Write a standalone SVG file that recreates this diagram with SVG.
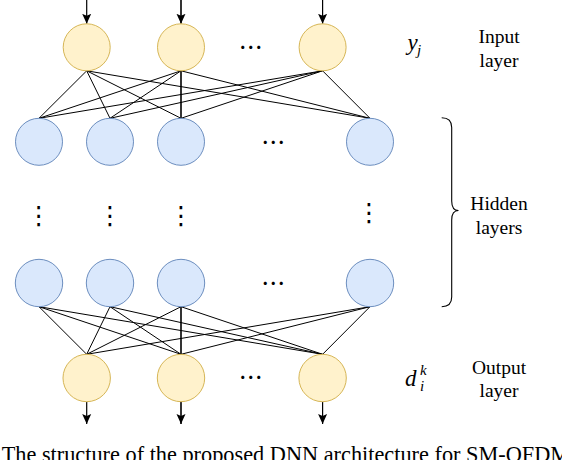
<svg xmlns="http://www.w3.org/2000/svg" width="562" height="460" viewBox="0 0 562 460">
  <style>
    .in{fill:#FFF2CC;stroke:#D6B656;stroke-width:1}
    .hid{fill:#DAE8FC;stroke:#6C8EBF;stroke-width:1}
    .edge{stroke:#000;stroke-width:1;fill:none}
    .arr{stroke:#000;stroke-width:1.2;fill:none;marker-end:url(#ah)}
    .lbl{font-family:"Liberation Serif","Times New Roman",serif;font-size:19.5px;fill:#000;text-anchor:middle}
    .math{font-family:"Liberation Serif","Times New Roman",serif;font-style:italic;fill:#000}
    .dots{font-family:"Noto Sans CJK SC","DejaVu Sans",sans-serif;font-size:24px;fill:#000;text-anchor:middle}
    .vdots{font-family:"Noto Sans CJK SC","DejaVu Sans",sans-serif;font-size:25px;fill:#000;text-anchor:middle}
    .cap{font-family:"Liberation Serif","Times New Roman",serif;font-size:22.3px;fill:#000}
  </style>
  <defs>
    <marker id="ah" markerUnits="userSpaceOnUse" markerWidth="10" markerHeight="10" viewBox="0 0 10 9" refX="10" refY="4.5" orient="auto">
      <path d="M0,0 L10,4.5 L0,9 L2,4.5 z" fill="#000"/>
    </marker>
  </defs>

  <g id="connectors">
    <!-- input arrows -->
    <line class="arr" x1="86.7" y1="0" x2="86.7" y2="23.8"/>
    <line class="arr" x1="181" y1="0" x2="181" y2="23.8" style="stroke-width:1.6"/>
    <line class="arr" x1="322.6" y1="0" x2="322.6" y2="23.8"/>
    <!-- input -> hidden 1 -->
    <line class="edge" x1="86.7" y1="70.8" x2="39" y2="118.3"/>
    <line class="edge" x1="86.7" y1="70.8" x2="110" y2="118.3"/>
    <line class="edge" x1="86.7" y1="70.8" x2="181" y2="118.3"/>
    <line class="edge" x1="86.7" y1="70.8" x2="370" y2="118.3"/>
    <line class="edge" x1="181" y1="70.8" x2="39" y2="118.3"/>
    <line class="edge" x1="181" y1="70.8" x2="110" y2="118.3"/>
    <line class="edge" x1="181" y1="70.8" x2="181" y2="118.3" style="stroke-width:1.6"/>
    <line class="edge" x1="181" y1="70.8" x2="370" y2="118.3"/>
    <line class="edge" x1="322.6" y1="70.8" x2="39" y2="118.3"/>
    <line class="edge" x1="322.6" y1="70.8" x2="110" y2="118.3"/>
    <line class="edge" x1="322.6" y1="70.8" x2="181" y2="118.3"/>
    <line class="edge" x1="322.6" y1="70.8" x2="370" y2="118.3"/>
    <!-- hidden 2 -> output -->
    <line class="edge" x1="39" y1="306.7" x2="86.7" y2="354.3"/>
    <line class="edge" x1="39" y1="306.7" x2="181" y2="354.3"/>
    <line class="edge" x1="39" y1="306.7" x2="322.6" y2="354.3"/>
    <line class="edge" x1="110" y1="306.7" x2="86.7" y2="354.3"/>
    <line class="edge" x1="110" y1="306.7" x2="181" y2="354.3"/>
    <line class="edge" x1="110" y1="306.7" x2="322.6" y2="354.3"/>
    <line class="edge" x1="181" y1="306.7" x2="86.7" y2="354.3"/>
    <line class="edge" x1="181" y1="306.7" x2="181" y2="354.3" style="stroke-width:1.6"/>
    <line class="edge" x1="181" y1="306.7" x2="322.6" y2="354.3"/>
    <line class="edge" x1="370" y1="306.7" x2="86.7" y2="354.3"/>
    <line class="edge" x1="370" y1="306.7" x2="181" y2="354.3"/>
    <line class="edge" x1="370" y1="306.7" x2="322.6" y2="354.3"/>
    <!-- output arrows -->
    <line class="arr" x1="86.7" y1="401.7" x2="86.7" y2="424"/>
    <line class="arr" x1="181" y1="401.7" x2="181" y2="424" style="stroke-width:1.6"/>
    <line class="arr" x1="322.6" y1="401.7" x2="322.6" y2="424"/>
  </g>

  <g id="input-1"><circle class="in" cx="86.7" cy="47.3" r="23.5"/></g>
  <g id="input-2"><circle class="in" cx="181" cy="47.3" r="23.5"/></g>
  <g id="input-3"><circle class="in" cx="322.6" cy="47.3" r="23.5"/></g>
  <g id="input-dots"><text class="dots" x="250.7" y="55.5">⋯</text></g>

  <g id="hidden1-1"><circle class="hid" cx="39" cy="141.8" r="23.5"/></g>
  <g id="hidden1-2"><circle class="hid" cx="110" cy="141.8" r="23.5"/></g>
  <g id="hidden1-3"><circle class="hid" cx="181" cy="141.8" r="23.5"/></g>
  <g id="hidden1-4"><circle class="hid" cx="370" cy="141.8" r="23.5"/></g>
  <g id="hidden1-dots"><text class="dots" x="273.3" y="150.5">⋯</text></g>

  <g id="vdots">
    <text class="vdots" x="38.7" y="223.5">⋮</text>
    <text class="vdots" x="110" y="223.5">⋮</text>
    <text class="vdots" x="181" y="223.5">⋮</text>
    <text class="vdots" x="369" y="221">⋮</text>
  </g>

  <g id="hidden2-1"><circle class="hid" cx="39" cy="283" r="23.7"/></g>
  <g id="hidden2-2"><circle class="hid" cx="110" cy="283" r="23.7"/></g>
  <g id="hidden2-3"><circle class="hid" cx="181" cy="283" r="23.7"/></g>
  <g id="hidden2-4"><circle class="hid" cx="370" cy="283" r="23.7"/></g>
  <g id="hidden2-dots"><text class="dots" x="273.3" y="291.5">⋯</text></g>

  <g id="output-1"><circle class="in" cx="86.7" cy="378" r="23.7"/></g>
  <g id="output-2"><circle class="in" cx="181" cy="378" r="23.7"/></g>
  <g id="output-3"><circle class="in" cx="322.6" cy="378" r="23.7"/></g>
  <g id="output-dots"><text class="dots" x="250.7" y="385.5">⋯</text></g>

  <g id="brace">
    <path d="M441.7,117.8 Q451.7,117.8 451.7,127.5 L451.7,201 Q451.7,210.5 458.5,210.5 Q451.7,210.5 451.7,220 L451.7,297 Q451.7,306.7 441.7,306.7" fill="none" stroke="#000" stroke-width="1.1"/>
  </g>

  <g id="label-input">
    <text class="math" x="407.5" y="50" style="font-size:23px">y<tspan x="417" y="55" style="font-size:15px">j</tspan></text>
    <text class="lbl" x="499" y="43">Input</text>
    <text class="lbl" x="499" y="66.5">layer</text>
  </g>
  <g id="label-hidden">
    <text class="lbl" x="499" y="209.5">Hidden</text>
    <text class="lbl" x="499" y="233.5">layers</text>
  </g>
  <g id="label-output">
    <text class="math" x="405" y="385.5" style="font-size:23px">d<tspan x="420" y="375" style="font-size:15px">k</tspan><tspan x="420" y="391" style="font-size:15px">i</tspan></text>
    <text class="lbl" x="499" y="374.3">Output</text>
    <text class="lbl" x="499" y="396.8">layer</text>
  </g>

  <g id="caption">
    <text class="cap" x="1.7" y="461.5">The structure of the proposed DNN architecture for SM-OFDM</text>
  </g>
</svg>
